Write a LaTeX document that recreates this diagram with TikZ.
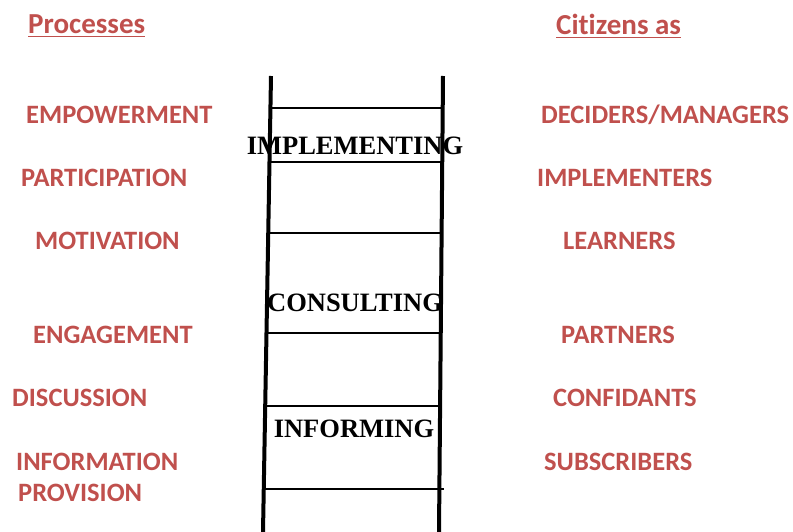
\documentclass[tikz,border=0pt]{standalone}
\usepackage{fontspec}
\setmainfont{Liberation Serif}
\newfontfamily\calib[Ligatures=NoCommon]{Carlito}
\usepackage{xcolor}
\definecolor{ProcRed}{HTML}{C0504D}
\usetikzlibrary{positioning}

\begin{document}
\begin{tikzpicture}[x=1pt, y=-1pt,
		rail/.style={line width=4pt},
		rung/.style={line width=1.6pt},
		stage/.style={font=\fontsize{26.5}{30}\selectfont\bfseries, inner sep=0pt},
		item/.style={font=\calib\fontsize{26.5}{31}\selectfont\bfseries, text=ProcRed, inner sep=0pt, anchor=west},
		head/.style={font=\calib\fontsize{29}{32}\selectfont\bfseries, text=ProcRed, inner sep=0pt, anchor=west}]
		\useasboundingbox (0,0) rectangle (793,532);
		% ladder
		\coordinate (lt) at (271,76);
		\coordinate (lb) at (263,532);
		\coordinate (rt) at (443,76);
		\coordinate (rb) at (439,532);
		\draw[rail] (lt) -- (lb);
		\draw[rail] (rt) -- (rb);
		\foreach \y/\xl/\xr in {108/270/441, 162/269/441, 233/268/440, 333/266/440, 406/263/440, 489/264/444}
		\draw[rung] (\xl,\y) -- (\xr,\y);
		\node[stage] (impl) at (355,146) {IMPLEMENTING};
		\node[stage] (cons) at (355,303) {CONSULTING};
		\node[stage] (info) at (354,429) {INFORMING};
		% headings
		\node[head] (proc) at (28,24) {Processes};
		\node[head] (citz) at (556,24) {Citizens as};
		\draw[ProcRed, line width=1.5pt] ([yshift=-3pt]proc.south west) -- ([yshift=-3pt]proc.south east);
		\draw[ProcRed, line width=1.5pt] ([yshift=-3pt]citz.south west) -- ([yshift=-3pt]citz.south east);
		% processes
		\node[item] (empo) at (26,115) {EMPOWERMENT};
		\node[item] (part) at (21,178) {PARTICIPATION};
		\node[item] (moti) at (35,241) {MOTIVATION};
		\node[item] (enga) at (33,335) {ENGAGEMENT};
		\node[item] (disc) at (12,398) {DISCUSSION};
		\node[item, align=left] (prov) at (16,477) {INFORMATION\\\hspace*{2pt}PROVISION};
		% citizens as
		\node[item] (deci) at (541,115) {DECIDERS/MANAGERS};
		\node[item] (impl2) at (537,178) {IMPLEMENTERS};
		\node[item] (lear) at (563,241) {LEARNERS};
		\node[item] (partn) at (561,335) {PARTNERS};
		\node[item] (conf) at (553,398) {CONFIDANTS};
		\node[item] (subs) at (544,462) {SUBSCRIBERS};
	\end{tikzpicture}
\end{document}
